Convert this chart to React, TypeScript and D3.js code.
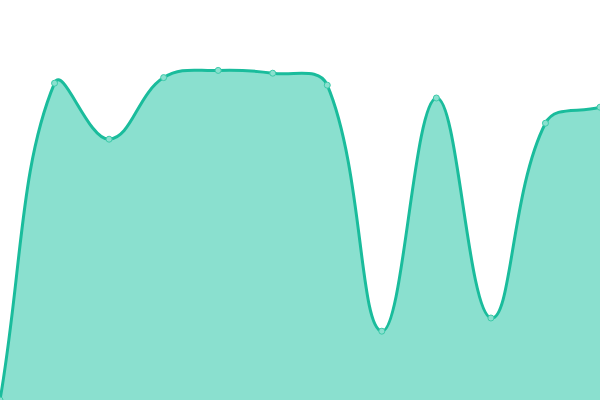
import React from 'react';
import * as d3 from 'd3';

const labels = ['1', '2', '3', '4', '5', '6', '7', '8', '9', '10', '11', '12'];
const values = [0, 79.2, 65.2, 80.6, 82.4, 81.7, 78.7, 17.2, 75.5, 20.5, 69.2, 73.2];

const W = 600;
const H = 400;
const TENSION = 0.4;

type Pt = [number, number];

// bezier spline like Chart.js (distance weighted control points, capped to the area)
function splinePath(pts: Pt[], closeToBottom: boolean): string {
  const cps = pts.map((cur, i) => {
    const prev = pts[i - 1] || cur;
    const next = pts[i + 1] || cur;
    const d01 = Math.hypot(cur[0] - prev[0], cur[1] - prev[1]);
    const d12 = Math.hypot(next[0] - cur[0], next[1] - cur[1]);
    const sum = d01 + d12 || 1;
    const fa = (TENSION * d01) / sum;
    const fb = (TENSION * d12) / sum;
    const clampX = (v: number) => Math.max(0, Math.min(W, v));
    const clampY = (v: number) => Math.max(0, Math.min(H, v));
    return {
      prev: [clampX(cur[0] - fa * (next[0] - prev[0])), clampY(cur[1] - fa * (next[1] - prev[1]))] as Pt,
      next: [clampX(cur[0] + fb * (next[0] - prev[0])), clampY(cur[1] + fb * (next[1] - prev[1]))] as Pt,
    };
  });
  const p = d3.path();
  p.moveTo(pts[0][0], pts[0][1]);
  for (let i = 1; i < pts.length; i++) {
    const a = cps[i - 1].next;
    const b = cps[i].prev;
    p.bezierCurveTo(a[0], a[1], b[0], b[1], pts[i][0], pts[i][1]);
  }
  if (closeToBottom) {
    p.lineTo(pts[pts.length - 1][0], H);
    p.lineTo(pts[0][0], H);
    p.closePath();
  }
  return p.toString();
}

const App: React.FC = () => {
  const x = d3.scalePoint<string>().domain(labels).range([0, W]);
  const y = d3.scaleLinear().domain([0, 100]).range([H, 0]);

  const pts: Pt[] = values.map((v, i) => [x(labels[i])!, y(v)]);

  return (
    <svg width={W} height={H} style={{ position: 'absolute', left: 0, top: 0 }}>
      <path d={splinePath(pts, true)} fill="#8ae0cf" />
      <path d={splinePath(pts, false)} fill="none" stroke="#1abc9c" strokeWidth={3} />
      {pts.map((pt, i) => (
        <circle
          key={i}
          cx={pt[0]}
          cy={pt[1]}
          r={3}
          fill="#8ae0cf"
          stroke="#3ccaa9"
          strokeWidth={1}
        />
      ))}
    </svg>
  );
};

export default App;
